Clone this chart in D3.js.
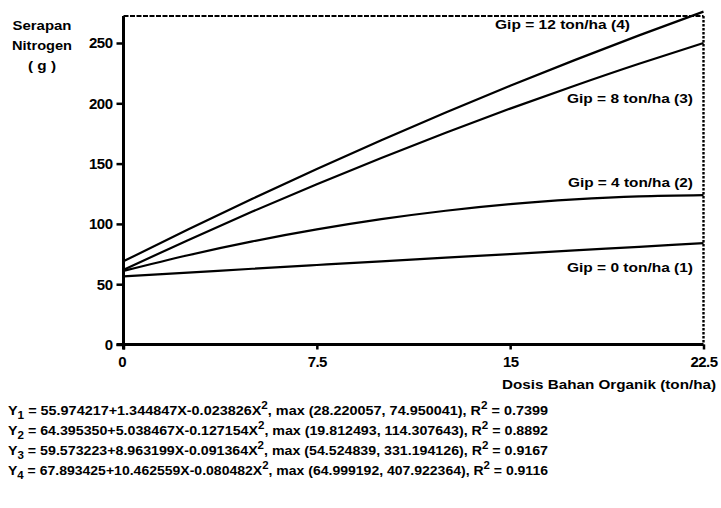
<!DOCTYPE html>
<html><head><meta charset="utf-8">
<script src="https://cdn.jsdelivr.net/npm/d3@7"></script>
<style>body{margin:0;background:#fff}svg{display:block}text{font-family:"Liberation Sans",Arial,sans-serif;font-weight:bold;fill:#000}</style>
</head><body><svg id="c" width="721" height="508"></svg>
<script>
const doses = [0, 2.5, 5, 7.5, 10, 12.5, 15, 17.5, 20, 22.5];
const gip0  = [56.5, 59.6, 62.8, 65.9, 69.0, 72.0, 75.0, 78.0, 81.0, 84.0];
const gip4  = [61.0, 74.0, 85.5, 95.4, 103.9, 110.9, 116.4, 120.3, 122.8, 123.8];
const gip8  = [62.0, 86.5, 110.2, 132.9, 154.7, 175.6, 195.6, 214.6, 232.8, 250.0];
const gip12 = [69.0, 95.3, 120.8, 145.5, 169.3, 192.3, 214.5, 235.8, 256.3, 276.0];
const seriesLabels = ["Gip = 0 ton/ha (1)", "Gip = 4 ton/ha (2)", "Gip = 8 ton/ha (3)", "Gip = 12 ton/ha (4)"];
const xTicks = [0, 7.5, 15, 22.5];
const xTickLabels = ["0", "7.5", "15", "22.5"];
const yTicks = [0, 50, 100, 150, 200, 250];
const yTitle = ["Serapan", "Nitrogen", "( g )"];
const xTitle = "Dosis Bahan Organik (ton/ha)";
const equations = [
  ["1", "55.974217+1.344847X-0.023826X", "28.220057, 74.950041", "0.7399"],
  ["2", "64.395350+5.038467X-0.127154X", "19.812493, 114.307643", "0.8892"],
  ["3", "59.573223+8.963199X-0.091364X", "54.524839, 331.194126", "0.9167"],
  ["4", "67.893425+10.462559X-0.080482X", "64.999192, 407.922364", "0.9116"]
];

const svg = d3.select("#c");
const x = d3.scaleLinear().domain([0, 22.5]).range([123.5, 703.5]);
const y = d3.scaleLinear().domain([0, 250]).range([344.5, 43]);
const yTop = 16;

// frame (dashed top and dotted right)
svg.append("line").attr("x1", x(0)).attr("x2", x(22.5)).attr("y1", yTop).attr("y2", yTop)
  .attr("stroke", "#000").attr("stroke-width", 2.2).attr("stroke-dasharray", "5,1.5");
svg.append("line").attr("x1", x(22.5)).attr("x2", x(22.5)).attr("y1", yTop).attr("y2", y(0))
  .attr("stroke", "#000").attr("stroke-width", 2.4).attr("stroke-dasharray", "2.5,1.5");

// axes
const yAxis = svg.append("g").attr("transform", `translate(${x(0)},0)`)
  .call(d3.axisLeft(y).tickValues(yTicks).tickSize(7).tickPadding(4).tickFormat(d3.format("d")));
yAxis.select(".domain").remove();
yAxis.append("line").attr("x1", 0).attr("x2", 0).attr("y1", yTop).attr("y2", y(0) + 5)
  .attr("stroke", "#000").attr("stroke-width", 3);
yAxis.selectAll(".tick line").attr("stroke-width", 2.5);
yAxis.selectAll(".tick text").attr("font-size", 15).attr("font-family", "Liberation Sans").attr("font-weight", "bold").attr("letter-spacing", -0.5);

const xAxis = svg.append("g").attr("transform", `translate(0,${y(0)})`)
  .call(d3.axisBottom(x).tickValues(xTicks).tickSize(5).tickPadding(7).tickFormat((d, i) => xTickLabels[i]));
xAxis.select(".domain").remove();
xAxis.append("line").attr("x1", x(0) - 7).attr("x2", x(22.5)).attr("y1", 0).attr("y2", 0)
  .attr("stroke", "#000").attr("stroke-width", 3);
xAxis.selectAll(".tick line").attr("stroke-width", 2.5);
xAxis.selectAll(".tick text").attr("font-size", 15).attr("font-family", "Liberation Sans").attr("font-weight", "bold").attr("letter-spacing", -0.6)
  .attr("dx", (d, i) => i === 0 ? -2 : 0);

// curves
const line = d3.line().x((d, i) => x(doses[i])).y(d => y(d)).curve(d3.curveNatural);
[gip0, gip4, gip8, gip12].forEach(s => {
  svg.append("path").datum(s).attr("d", line).attr("fill", "none")
    .attr("stroke", "#000").attr("stroke-width", 2.2);
});

// series labels
const labelPos = [[567, 272, 126], [568, 187, 125], [567, 103, 126], [495, 29, 135]];
seriesLabels.forEach((t, i) => {
  svg.append("text").attr("x", labelPos[i][0]).attr("y", labelPos[i][1])
    .attr("font-size", 13).attr("textLength", labelPos[i][2]).attr("lengthAdjust", "spacingAndGlyphs").text(t);
});

// y title
const yTitleW = [59, 60, 28];
yTitle.forEach((t, i) => {
  svg.append("text").attr("x", 42).attr("y", 30 + i * 20).attr("text-anchor", "middle")
    .attr("font-size", 13).attr("textLength", yTitleW[i]).attr("lengthAdjust", "spacingAndGlyphs").text(t);
});

// x title
svg.append("text").attr("x", 502).attr("y", 389).attr("font-size", 13)
  .attr("textLength", 214).attr("lengthAdjust", "spacingAndGlyphs").text(xTitle);

// equations
equations.forEach((e, i) => {
  const t = svg.append("text").attr("x", 8).attr("y", 415 + i * 20).attr("font-size", 13.5)
    .attr("textLength", 540).attr("lengthAdjust", "spacingAndGlyphs");
  t.append("tspan").text("Y");
  t.append("tspan").attr("font-size", 11).attr("dy", 4).text(e[0]);
  t.append("tspan").attr("dy", -4).text(" = " + e[1]);
  t.append("tspan").attr("font-size", 11).attr("dy", -6).text("2");
  t.append("tspan").attr("dy", 6).text(", max (" + e[2] + "), R");
  t.append("tspan").attr("font-size", 11).attr("dy", -6).text("2");
  t.append("tspan").attr("dy", 6).text(" = " + e[3]);
});
</script></body></html>
